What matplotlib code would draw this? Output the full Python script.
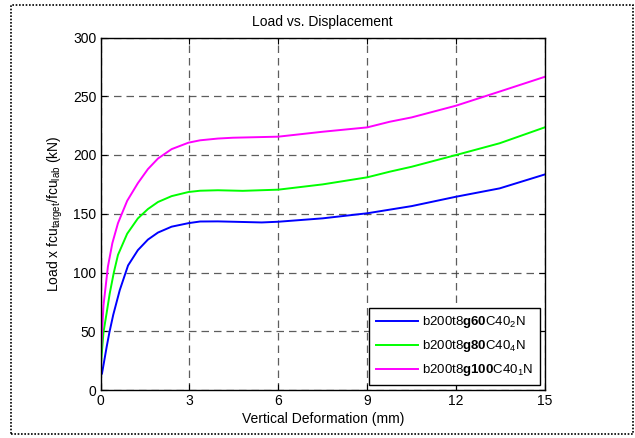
import matplotlib
matplotlib.use('Agg')
import matplotlib.pyplot as plt
from matplotlib.patches import Rectangle

plt.rcParams['font.family'] = ['Liberation Sans', 'DejaVu Sans']
plt.rcParams['mathtext.fontset'] = 'custom'
plt.rcParams['mathtext.rm'] = 'Liberation Sans'
plt.rcParams['mathtext.it'] = 'Liberation Sans'
plt.rcParams['mathtext.bf'] = 'Liberation Sans:bold'

# readings (mm, kN)
g60_x = [0.05, 0.12, 0.21, 0.3, 0.43, 0.65, 0.93, 1.26, 1.6, 1.94, 2.4, 2.97,
         3.36, 3.96, 4.47, 5.44, 6.0, 7.5, 9.0, 10.5, 12.0, 13.47, 15.0]
g60_y = [14, 24, 37, 49, 64, 85, 106, 119, 128, 134, 139, 142,
         143.4, 143.5, 143.2, 142.6, 143.2, 146.1, 150.4, 156.5, 164.5, 171.6, 183.5]

g80_x = [0.0, 0.02, 0.1, 0.21, 0.31, 0.45, 0.59, 0.9, 1.26, 1.6, 1.94, 2.4,
         2.97, 3.36, 3.96, 4.8, 6.0, 7.5, 9.0, 9.76, 10.5, 12.0, 13.47, 15.0]
g80_y = [20, 24, 49, 66, 82, 100, 115, 133, 146, 154, 160, 165,
         168.5, 169.6, 170, 169.5, 170.5, 175, 181, 185.8, 190, 200, 210, 223.6]

g100_x = [0.0, 0.02, 0.1, 0.16, 0.25, 0.4, 0.59, 0.9, 1.26, 1.6, 1.94, 2.4,
          2.97, 3.36, 3.96, 4.47, 6.0, 7.5, 9.0, 9.76, 10.5, 12.0, 13.47, 15.0]
g100_y = [10, 34, 72, 85, 105, 125, 142, 161, 176, 188, 197, 205,
          210.5, 212.5, 214, 214.7, 215.6, 219.8, 223.5, 228.3, 232, 242, 254, 266.6]

labels = [r'b200t8$\mathbf{g60}$C40$_2$N',
          r'b200t8$\mathbf{g80}$C40$_4$N',
          r'b200t8$\mathbf{g100}$C40$_1$N']
x_ticks = [0, 3, 6, 9, 12, 15]
y_ticks = [0, 50, 100, 150, 200, 250, 300]

fig = plt.figure(figsize=(6.35, 4.38), dpi=100)
ax = fig.add_axes([100.5 / 635, 48 / 438, 444.5 / 635, 352.5 / 438])

ax.plot(g60_x, g60_y, color='#0000ff', lw=1.4, label=labels[0])
ax.plot(g80_x, g80_y, color='#00ff00', lw=1.4, label=labels[1])
ax.plot(g100_x, g100_y, color='#ff00ff', lw=1.4, label=labels[2])

ax.set_xlim(0, 15)
ax.set_ylim(0, 300)
ax.set_xticks(x_ticks)
ax.set_yticks(y_ticks)
ax.tick_params(direction='in', top=True, right=True, length=4, labelsize=10, pad=3)
ax.grid(True, color='#404040', linestyle=(0, (6, 4)), linewidth=0.9, alpha=0.85)
for s in ax.spines.values():
    s.set_linewidth(1.0)
    s.set_color('black')

ax.set_title('Load vs. Displacement', fontsize=10, pad=8)
ax.set_xlabel('Vertical Deformation (mm)', fontsize=10, labelpad=3)
ax.set_ylabel(r'Load x fcu$_{target}$/fcu$_{lab}$ (kN)', fontsize=10, labelpad=6)

leg = ax.legend(loc='lower right', fontsize=9.5, fancybox=False, framealpha=1,
                edgecolor='black', handlelength=3.2, handletextpad=0.3,
                borderpad=0.5, labelspacing=0.6, borderaxespad=0.4)
leg.get_frame().set_linewidth(1.0)

fig.patches.append(Rectangle((11 / 635, 4 / 438), 622 / 635, 429 / 438,
                             transform=fig.transFigure, fill=False,
                             edgecolor='black', linestyle=(0, (1, 1)),
                             linewidth=1.2))

fig.savefig('out.png', dpi=100)
